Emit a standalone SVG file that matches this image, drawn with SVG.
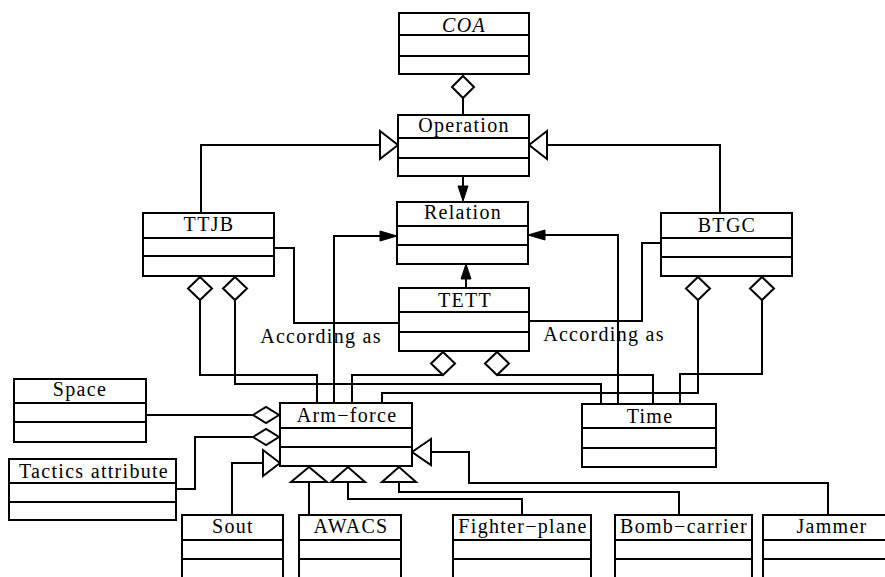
<svg xmlns="http://www.w3.org/2000/svg" width="885" height="577" viewBox="0 0 885 577">
<style>
.b{fill:#fff;stroke:#000;stroke-width:2}
.d{stroke:#000;stroke-width:2}
.t{font-family:"Liberation Serif","Times New Roman",serif;font-size:20px;letter-spacing:1.3px;text-anchor:middle;fill:#000}
.c{fill:none;stroke:#000;stroke-width:2}
.o{fill:#fff;stroke:#000;stroke-width:2}
.f{fill:#000;stroke:#000;stroke-width:1}
</style>
<rect width="885" height="577" fill="#fff"/>
<g id="connectors">
<!-- COA aggregation -->
<line class="c" x1="463" y1="98" x2="463" y2="115"/>
<polygon class="o" points="463,76 474,87 463,98 452,87"/>
<!-- Operation -> Relation -->
<line class="c" x1="463" y1="176" x2="463" y2="187"/>
<polygon class="f" points="458,186 468,186 463,201"/>
<!-- generalizations to Operation -->
<polyline class="c" points="201,213 201,145 380,145"/>
<polygon class="o" points="380,131 398,145 380,159"/>
<polyline class="c" points="720,213 720,145 547,145"/>
<polygon class="o" points="547,131 529,145 547,159"/>
<!-- According as -->
<polyline class="c" points="274,248 294,248 294,323 399,323"/>
<polyline class="c" points="661,243 642,243 642,321 529,321"/>
<!-- arrows into Relation -->
<polyline class="c" points="334,403 334,236 381,236"/>
<polygon class="f" points="380,231 397,236 380,241"/>
<polyline class="c" points="618,404 618,235 544,235"/>
<polygon class="f" points="545,230 528,235 545,240"/>
<line class="c" x1="466" y1="288" x2="466" y2="278"/>
<polygon class="f" points="461,279 471,279 466,264"/>
<!-- TTJB aggregations -->
<polyline class="c" points="200,300 200,375 317,375 317,403"/>
<polyline class="c" points="235,300 235,384 601,384 601,404"/>
<polygon class="o" points="200,277 212,288.5 200,300 188,288.5"/>
<polygon class="o" points="235,277 247,288.5 235,300 223,288.5"/>
<!-- BTGC aggregations -->
<polyline class="c" points="698,300 698,393 382,393 382,403"/>
<polyline class="c" points="762,300 762,374 680,374 680,404"/>
<polygon class="o" points="698,277 710,288.5 698,300 686,288.5"/>
<polygon class="o" points="762,277 774,288.5 762,300 750,288.5"/>
<!-- TETT aggregations -->
<polyline class="c" points="443,375 352,375 352,403"/>
<polyline class="c" points="497,375 653,375 653,404"/>
<polygon class="o" points="443,352 455,363.5 443,375 431,363.5"/>
<polygon class="o" points="497,352 509,363.5 497,375 485,363.5"/>
<!-- Space / Tactics aggregations -->
<line class="c" x1="146" y1="415" x2="253" y2="415"/>
<polygon class="o" points="253,415 266,407 279,415 266,423"/>
<polyline class="c" points="253,437 195,437 195,489 176,489"/>
<polygon class="o" points="253,437 266,429 279,437 266,445"/>
<!-- generalizations to Arm-force -->
<polyline class="c" points="263,463 232,463 232,515"/>
<polygon class="o" points="263,450 280,463 263,476"/>
<line class="c" x1="309" y1="482" x2="309" y2="515"/>
<polygon class="o" points="291,482 309,467 327,482"/>
<polyline class="c" points="348,482 348,499 522,499 522,515"/>
<polygon class="o" points="331,482 348,467 365,482"/>
<polyline class="c" points="399,482 399,492 679,492 679,515"/>
<polygon class="o" points="382,482 399,467 416,482"/>
<polyline class="c" points="431,452 469,452 469,483 828,483 828,515"/>
<polygon class="o" points="431,439 412,452 431,465"/>
<!-- labels -->
<text class="t" x="321" y="343">According as</text>
<text class="t" x="604" y="341">According as</text>
</g>
<g id="COA"><rect class="b" x="399" y="13" width="130" height="61"/><line class="d" x1="399" y1="35" x2="529" y2="35"/><line class="d" x1="399" y1="56" x2="529" y2="56"/><text class="t" x="464" y="32" font-style="italic">COA</text></g>
<g id="Operation"><rect class="b" x="398" y="115" width="131" height="61"/><line class="d" x1="398" y1="138" x2="529" y2="138"/><line class="d" x1="398" y1="158" x2="529" y2="158"/><text class="t" x="464" y="132">Operation</text></g>
<g id="Relation"><rect class="b" x="397" y="202" width="131" height="62"/><line class="d" x1="397" y1="226" x2="528" y2="226"/><line class="d" x1="397" y1="245" x2="528" y2="245"/><text class="t" x="463" y="219">Relation</text></g>
<g id="TTJB"><rect class="b" x="143" y="213" width="131" height="63"/><line class="d" x1="143" y1="238" x2="274" y2="238"/><line class="d" x1="143" y1="256" x2="274" y2="256"/><text class="t" x="209" y="231">TTJB</text></g>
<g id="BTGC"><rect class="b" x="661" y="213" width="131" height="63"/><line class="d" x1="661" y1="238" x2="792" y2="238"/><line class="d" x1="661" y1="257" x2="792" y2="257"/><text class="t" x="727" y="232">BTGC</text></g>
<g id="TETT"><rect class="b" x="399" y="288" width="130" height="63"/><line class="d" x1="399" y1="312" x2="529" y2="312"/><line class="d" x1="399" y1="332" x2="529" y2="332"/><text class="t" x="465" y="307">TETT</text></g>
<g id="Space"><rect class="b" x="14" y="379" width="132" height="63"/><line class="d" x1="14" y1="403" x2="146" y2="403"/><line class="d" x1="14" y1="422" x2="146" y2="422"/><text class="t" x="80" y="396">Space</text></g>
<g id="Tactics"><rect class="b" x="9" y="459" width="167" height="61"/><line class="d" x1="9" y1="483" x2="176" y2="483"/><line class="d" x1="9" y1="502" x2="176" y2="502"/><text class="t" x="94" y="478">Tactics attribute</text></g>
<g id="ArmForce"><rect class="b" x="280" y="403" width="132" height="63"/><line class="d" x1="280" y1="428" x2="412" y2="428"/><line class="d" x1="280" y1="447" x2="412" y2="447"/><text class="t" x="347" y="422">Arm−force</text></g>
<g id="Time"><rect class="b" x="582" y="404" width="134" height="63"/><line class="d" x1="582" y1="428" x2="716" y2="428"/><line class="d" x1="582" y1="448" x2="716" y2="448"/><text class="t" x="650" y="423">Time</text></g>
<g id="Sout"><rect class="b" x="182" y="515" width="101" height="75"/><line class="d" x1="182" y1="540" x2="283" y2="540"/><line class="d" x1="182" y1="559" x2="283" y2="559"/><text class="t" x="233" y="533">Sout</text></g>
<g id="AWACS"><rect class="b" x="299" y="515" width="102" height="75"/><line class="d" x1="299" y1="540" x2="401" y2="540"/><line class="d" x1="299" y1="559" x2="401" y2="559"/><text class="t" x="351" y="533">AWACS</text></g>
<g id="Fighter"><rect class="b" x="453" y="515" width="138" height="75"/><line class="d" x1="453" y1="540" x2="591" y2="540"/><line class="d" x1="453" y1="559" x2="591" y2="559"/><text class="t" x="523" y="533">Fighter−plane</text></g>
<g id="Bomb"><rect class="b" x="615" y="515" width="137" height="75"/><line class="d" x1="615" y1="540" x2="752" y2="540"/><line class="d" x1="615" y1="559" x2="752" y2="559"/><text class="t" x="684" y="533">Bomb−carrier</text></g>
<g id="Jammer"><rect class="b" x="763" y="515" width="135" height="75"/><line class="d" x1="763" y1="540" x2="898" y2="540"/><line class="d" x1="763" y1="559" x2="898" y2="559"/><text class="t" x="832" y="533">Jammer</text></g>
</svg>
